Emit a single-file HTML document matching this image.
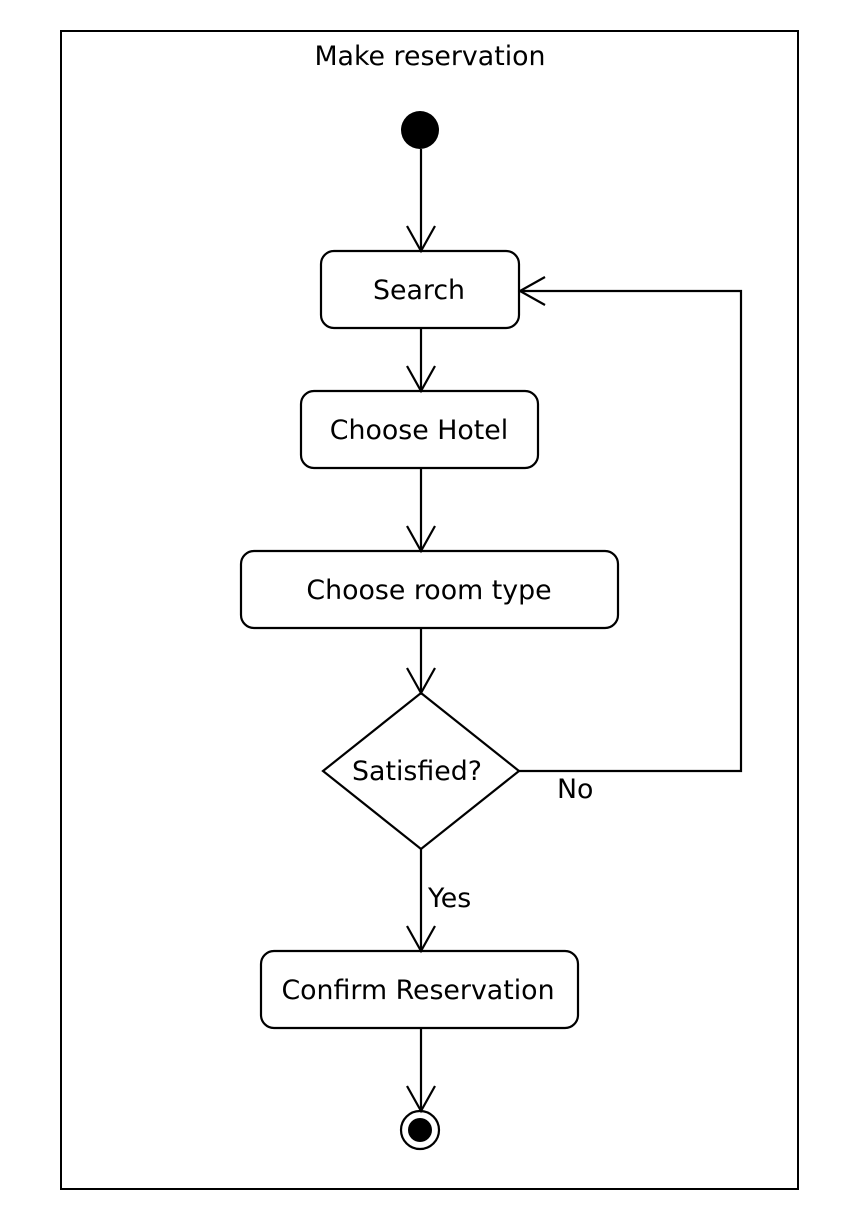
<!DOCTYPE html>
<html><head><style>body{margin:0;background:#fff}</style></head><body>
<svg width="850" height="1224" xmlns="http://www.w3.org/2000/svg" font-family="DejaVu Sans, Liberation Sans, sans-serif" font-size="26.8">
<rect x="61" y="31" width="737" height="1158" fill="none" stroke="#000" stroke-width="2"/>
<text x="430" y="65" text-anchor="middle">Make reservation</text>
<circle cx="420" cy="130" r="19" fill="#000"/>
<g stroke="#000" stroke-width="2.2" fill="none">
<line x1="421" y1="149" x2="421" y2="251"/><polyline points="407,226 421,251 435,226"/>
<rect x="321" y="251" width="198" height="77" rx="13"/>
<line x1="421" y1="328" x2="421" y2="391"/><polyline points="407,366 421,391 435,366"/>
<rect x="301" y="391" width="237" height="77" rx="13"/>
<line x1="421" y1="468" x2="421" y2="551"/><polyline points="407,526 421,551 435,526"/>
<rect x="241" y="551" width="377" height="77" rx="13"/>
<line x1="421" y1="628" x2="421" y2="693"/><polyline points="407,668 421,693 435,668"/>
<polygon points="421,693 519,771 421,849 323,771"/>
<line x1="421" y1="849" x2="421" y2="951"/><polyline points="407,926 421,951 435,926"/>
<rect x="261" y="951" width="317" height="77" rx="13"/>
<line x1="421" y1="1028" x2="421" y2="1111"/><polyline points="407,1086 421,1111 435,1086"/>
<polyline points="519,771 741,771 741,291 520,291"/><polyline points="545,277 520,291 545,305"/>
<circle cx="420" cy="1130" r="19"/>
</g>
<circle cx="420" cy="1130" r="12" fill="#000"/>
<text x="419" y="299" text-anchor="middle">Search</text>
<text x="419" y="439" text-anchor="middle">Choose Hotel</text>
<text x="429" y="599" text-anchor="middle">Choose room type</text>
<text x="417" y="780" text-anchor="middle">Satisfied?</text>
<text x="418" y="999" text-anchor="middle">Confirm Reservation</text>
<text x="557" y="798">No</text>
<text x="428" y="907">Yes</text>
</svg>
</body></html>
